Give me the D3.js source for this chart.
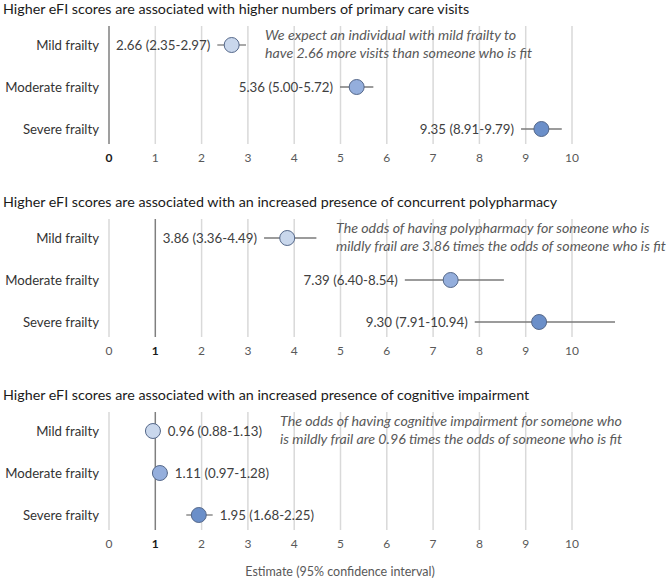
<!DOCTYPE html>
<html>
<head>
<meta charset="utf-8">
<script src="https://cdn.jsdelivr.net/npm/d3@7"></script>
<style>
  body { margin: 0; background: #fff; }
  svg { font-family: Lato, "Open Sans", sans-serif; }
</style>
</head>
<body>
<div id="chart"></div>
<script>
// forest plots, three panels, same x axis
const categories = ["Mild frailty", "Moderate frailty", "Severe frailty"];
const tickValues = [0, 1, 2, 3, 4, 5, 6, 7, 8, 9, 10];

const visitsEst = [2.66, 5.36, 9.35];
const visitsLow = [2.35, 5.00, 8.91];
const visitsHigh = [2.97, 5.72, 9.79];

const polyEst = [3.86, 7.39, 9.30];
const polyLow = [3.36, 6.40, 7.91];
const polyHigh = [4.49, 8.54, 10.94];

const cogEst = [0.96, 1.11, 1.95];
const cogLow = [0.88, 0.97, 1.68];
const cogHigh = [1.13, 1.28, 2.25];

const titles = [
  "Higher eFI scores are associated with higher numbers of primary care visits",
  "Higher eFI scores are associated with an increased presence of concurrent polypharmacy",
  "Higher eFI scores are associated with an increased presence of cognitive impairment"
];
const notes = [
  ["We expect an individual with mild frailty to", "have 2.66 more visits than someone who is fit"],
  ["The odds of having polypharmacy for someone who is", "mildly frail are 3.86 times the odds of someone who is fit"],
  ["The odds of having cognitive impairment for someone who", "is mildly frail are 0.96 times the odds of someone who is fit"]
];

const colours = ["#c9d7ec", "#94aedc", "#6b8fc9"];

const W = 669, H = 579;
const svg = d3.select("#chart").append("svg")
  .attr("width", W)
  .attr("height", H);

const x = d3.scaleLinear()
  .domain([0, 10])
  .range([108.5, 571.5]);

function fmt(v) { return v.toFixed(2); }

function drawPanel(top, title, est, low, high, refValue, labelSide, note, noteX) {
  const g = svg.append("g").attr("transform", `translate(0, ${top})`);

  // rows ~42px apart
  const y = d3.scalePoint()
    .domain(categories)
    .range([45, 129]);

  const gridTop = 26, gridBottom = 144;

  g.append("text")
    .attr("x", 3)
    .attr("y", 14)
    .attr("font-size", 14.3)
    .attr("fill", "#1a1a1a")
    .text(title);

  // grid lines
  g.append("g")
    .attr("transform", `translate(0, ${gridBottom})`)
    .call(d3.axisBottom(x).tickValues(tickValues).tickSize(gridBottom - gridTop).tickFormat(""))
    .call(a => a.select(".domain").remove())
    .call(a => a.selectAll(".tick line")
      .attr("y2", -(gridBottom - gridTop))
      .attr("stroke", d => d === refValue ? "#7f7f7f" : "#d9d9d9")
      .attr("stroke-width", 1.5));

  // tick labels
  g.append("g")
    .attr("transform", `translate(0, ${gridBottom + 6})`)
    .call(d3.axisBottom(x).tickValues(tickValues).tickSize(0))
    .call(a => a.select(".domain").remove())
    .call(a => a.selectAll(".tick text")
      .attr("font-family", "Lato, sans-serif")
      .attr("font-size", 12)
      .attr("font-weight", d => d === refValue ? "bold" : "normal")
      .attr("fill", d => d === refValue ? "#1a1a1a" : "#595959"));

  // category labels
  g.selectAll(".cat")
    .data(categories)
    .enter()
    .append("text")
    .attr("x", 99)
    .attr("y", d => y(d))
    .attr("dy", "0.35em")
    .attr("text-anchor", "end")
    .attr("font-size", 13.2)
    .attr("fill", "#333")
    .text(d => d);

  const rows = categories.map((c, i) => ({ cat: c, est: est[i], low: low[i], high: high[i], col: colours[i] }));

  // CI lines
  g.selectAll(".ci")
    .data(rows)
    .enter()
    .append("line")
    .attr("x1", d => x(d.low))
    .attr("x2", d => x(d.high))
    .attr("y1", d => y(d.cat))
    .attr("y2", d => y(d.cat))
    .attr("stroke", "#7a7a7a")
    .attr("stroke-width", 1.3);

  g.selectAll(".pt")
    .data(rows)
    .enter()
    .append("circle")
    .attr("cx", d => x(d.est))
    .attr("cy", d => y(d.cat))
    .attr("r", 7.5)
    .attr("fill", d => d.col)
    .attr("stroke", "#55688a")
    .attr("stroke-width", 1);

  g.selectAll(".val")
    .data(rows)
    .enter()
    .append("text")
    .attr("x", d => labelSide === "left"
      ? Math.min(x(d.low), x(d.est) - 7.5) - 7
      : Math.max(x(d.high), x(d.est) + 7.5) + 7)
    .attr("y", d => y(d.cat))
    .attr("dy", "0.35em")
    .attr("text-anchor", labelSide === "left" ? "end" : "start")
    .attr("font-size", 13.3)
    .attr("fill", "#404040")
    .text(d => `${fmt(d.est)} (${fmt(d.low)}-${fmt(d.high)})`);

  g.selectAll(".note")
    .data(note)
    .enter()
    .append("text")
    .attr("x", noteX)
    .attr("y", (d, i) => 40 + i * 18)
    .attr("font-size", 14.2)
    .attr("font-style", "italic")
    .attr("fill", "#595959")
    .text(d => d);
}

drawPanel(0, titles[0], visitsEst, visitsLow, visitsHigh, 0, "left", notes[0], 265);
drawPanel(193, titles[1], polyEst, polyLow, polyHigh, 1, "left", notes[1], 336);
drawPanel(386, titles[2], cogEst, cogLow, cogHigh, 1, "right", notes[2], 280);

svg.append("text")
  .attr("x", 340)
  .attr("y", 576)
  .attr("text-anchor", "middle")
  .attr("font-size", 12.5)
  .attr("fill", "#595959")
  .text("Estimate (95% confidence interval)");
</script>
</body>
</html>
